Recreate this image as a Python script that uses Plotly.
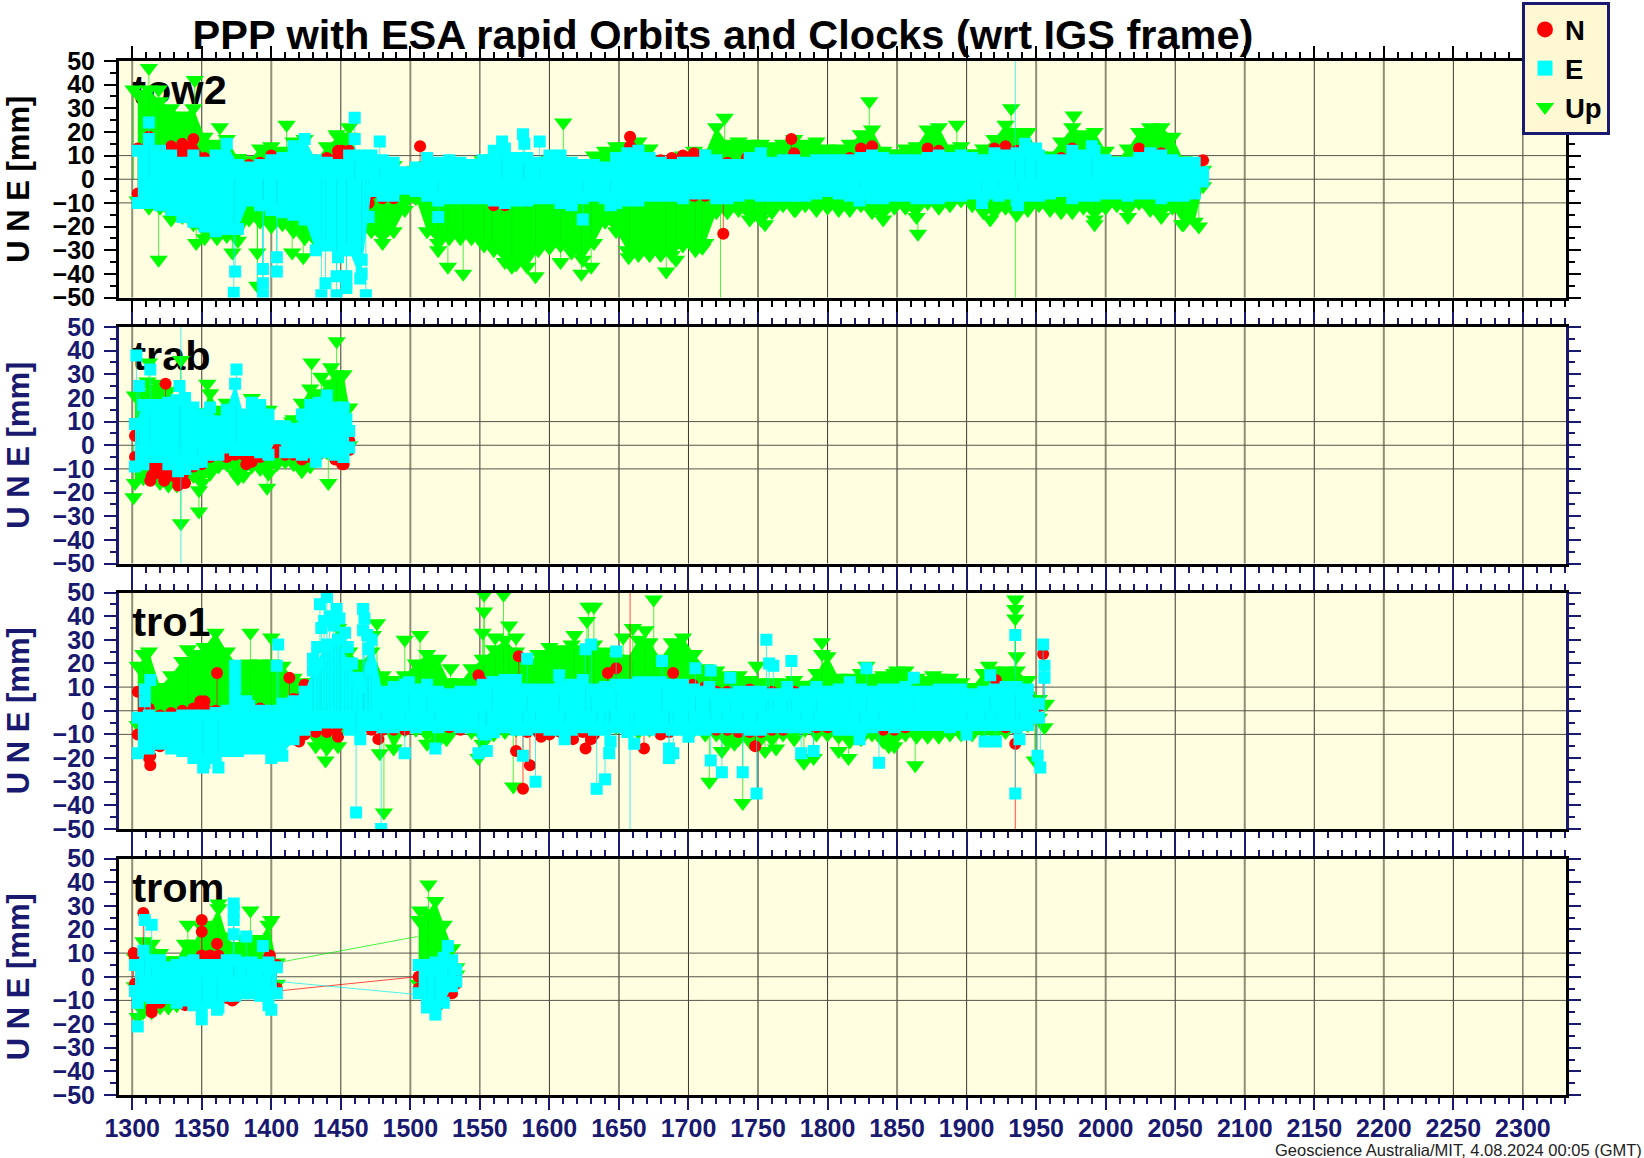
import plotly.graph_objects as go

TITLE = "PPP with ESA rapid Orbits and Clocks (wrt IGS frame)"
FOOTER = "Geoscience Australia/MIT, 4.08.2024 00:05 (GMT)"
Y_TITLE = "U N E [mm]"
SERIES_NAMES = ["N", "E", "Up"]
GRID_WEEKS_PALE = [1300,1400,1500,1650,1750,1850,1950,2000,2100,2200]
GRID_WEEKS_DARK = [1350,1450,1550,1600,1700,1800,1900,2050,2150,2250,2300]
GRID_LEVELS = [-10, 0, 10]

# ---------- tow2 ----------
tow2_weeks = [1304,1312,1320,1328,1336,1344,1352,1360,
 1368,1376,1384,1392,1400,1408,1416,1424,
 1432,1440,1448,1456,1464,1472,1480,1488,
 1496,1504,1512,1520,1528,1536,1544,1552,
 1560,1568,1576,1584,1592,1600,1608,1616,
 1624,1632,1640,1648,1656,1664,1672,1680,
 1688,1696,1704,1712,1720,1728,1736,1744,
 1752,1760,1768,1776,1784,1792,1800,1808,
 1816,1824,1832,1840,1848,1856,1864,1872,
 1880,1888,1896,1904,1912,1920,1928,1936,
 1944,1952,1960,1968,1976,1984,1992,2000,
 2008,2016,2024,2032,2040,2048,2056,2064,
 2070]
tow2_e_hi = [12,17,12,10,7,10,7,10, 15,6,5,6,8,9,14,17, 8,7,6,10,10,10,8,7, 3,5,9,7,8,7,6,8,
 12,13,9,9,7,10,10,7, 6,6,5,9,11,12,9,7, 6,7,7,10,8,6,6,9, 11,7,8,8,7,8,8,8,
 8,9,10,9,8,8,8,9, 10,9,10,9,8,11,10,11, 13,10,8,8,12,10,12,8, 7,7,9,11,10,8,7,7, 3]
tow2_e_lo = [-10,-10,-11,-13,-16,-18,-20,-22, -21,-21,-9,-11,-13,-14,-15,-17, -30,-28,-33,-30,-42,-5,-7,-7,
 -4,-5,-7,-9,-8,-8,-8,-8, -9,-10,-9,-9,-8,-8,-10,-11, -8,-7,-8,-10,-9,-9,-7,-7,
 -7,-8,-6,-6,-8,-8,-7,-6, -7,-7,-7,-7,-7,-6,-5,-6, -7,-6,-8,-8,-7,-7,-8,-8,
 -8,-7,-7,-6,-7,-6,-6,-9, -7,-7,-6,-5,-8,-7,-7,-6, -6,-7,-6,-6,-8,-7,-7,-6, -1]
tow2_n_hi = [13,18,12,14,15,17,9,7, 6,4,6,7,10,6,7,8, 8,9,12,12,0,1,0,0, 1,1,2,3,4,3,3,3,
 5,4,7,7,5,4,4,3, 4,1,3,7,10,11,8,8, 9,10,11,6,7,7,6,6, 7,7,8,11,6,7,6,5,
 9,13,14,9,7,5,6,13, 12,9,6,5,6,13,14,12, 7,5,7,9,13,7,8,5, 4,6,13,10,11,6,4,6, 8]
tow2_n_lo = [-6,-8,-7,-9,-9,-10,-10,-10, -9,-8,-7,-7,-8,-8,-8,-9, -10,-14,-10,-10,-10,-6,-8,-8,
 -3,-3,-6,-8,-7,-6,-6,-6, -11,-11,-8,-9,-8,-7,-8,-8, -8,-6,-6,-5,-6,-7,-6,-6,
 -6,-6,-7,-7,-8,-7,-6,-5, -5,-6,-5,-6,-6,-5,-4,-5, -6,-5,-7,-6,-5,-6,-6,-6,
 -6,-6,-5,-5,-7,-5,-5,-7, -5,-5,-5,-5,-5,-5,-5,-5, -5,-6,-5,-5,-6,-5,-6,-6, -1]
tow2_u_hi = [36,38,33,30,27,30,18,15, 17,9,8,13,14,12,16,17, 8,14,18,18,9,5,7,6, 2,4,6,6,7,6,6,8,
 9,8,7,7,7,8,7,5, 6,10,12,14,14,16,13,7, 7,10,12,11,22,15,16,15, 15,14,15,17,15,16,13,13,
 15,19,21,12,11,13,14,21, 22,13,14,11,13,17,23,20, 20,10,10,16,22,19,20,12, 8,13,20,22,22,18,8,7, 4]
tow2_u_lo = [-9,-12,-12,-17,-16,-19,-25,-22, -24,-26,-17,-18,-20,-19,-22,-25, -26,-27,-27,-24,-22,-22,-27,-22,
 -13,-8,-22,-27,-25,-25,-25,-27, -30,-35,-36,-37,-30,-29,-28,-31, -34,-27,-18,-22,-30,-32,-32,-32,
 -32,-28,-28,-27,-14,-14,-13,-17, -17,-14,-11,-13,-11,-13,-12,-13, -13,-11,-14,-17,-12,-12,-16,-10,
 -12,-11,-9,-11,-14,-14,-12,-15, -13,-11,-13,-14,-14,-12,-17,-12, -11,-16,-10,-13,-16,-12,-19,-18, -3]
tow2_u_out_w = [1312,1301,1319,1345,1363,1411,1447,1456,1610,1319,1346,1372,1390,1423,1415,1361,1390,
 1527,1538,1573,1590,1608,1623,1630,1657,1684,1691,1726,1755,1777,1520,1559,1553,1705,1710,1747,
 1830,1865,1893,1932,1977,1917,1992,2055,2067,1935,1723]
tow2_u_out_v = [47,38,38,42,22,23,19,22,24,-34,-27,-31,-31,-33,-31,-25,-45,
 -37,-40,-37,-41,-35,-40,-37,-33,-39,-34,26,-19,-13,-30,-28,-28,-30,-29,-15,
 33,-23,23,30,27,-17,-19,-19,-20,-62,-62]
tow2_e_out_w = [1312,1374,1373,1394,1394,1394,1404,1404,1460,1460,1478,1581,1582,1593,1566,1520,1624,1644,
 1439,1447,1454,1454,1447,1468,1470,1436,1465,1465,1823,1911,1923,1937,1942,1950,1990,1935]
tow2_e_out_v = [24,-39,-48,-38,-44,-49,-33,-39,26,17,16,19,15,16,16,-16,-17,-11,
 -44,-49,-41,-46,-41,-49,-16,-49,-40,-34,-9,-10,-7,-11,15,13,14,62]
tow2_n_out_w = [1507,1658,1658,1725,1774,1742,1470,1449,1451,1566,1706]
tow2_n_out_v = [14,18,14,-23,17,9,-10,-10,12,-10,10]

# ---------- trab ----------
trab_weeks = [1302,1308,1314,1320,1326,1332,1338,1344,1350,1356,1362,1368,1374,1380,
 1386,1392,1398,1404,1410,1416,1422,1428,1434,1440,1446,1452,1456]
trab_e_hi = [9,17,17,17,18,19,20,16,13,16,10,15,26,13, 18,17,13,8,8,7,13,17,18,21,16,16,6]
trab_e_lo = [-9,-8,-5,-5,-8,-7,-10,-8,-7,-4,-4,-1,-2,-2, -2,-3,-4,3,-3,-3,-4,-3,-3,-3,-4,-5,-1]
trab_n_hi = [4,8,8,10,15,8,6,5,4,6,3,3,4,3, 3,3,4,2,2,3,2,3,3,5,4,8,2]
trab_n_lo = [-5,-7,-13,-12,-13,-14,-16,-9,-8,-5,-4,-5,-4,-4, -7,-5,-2,-3,-4,-4,-6,-5,-4,-3,-6,-8,-2]
trab_u_hi = [21,22,24,25,23,18,15,14,14,22,15,18,12,12, 20,15,15,3,8,11,18,24,22,26,30,30,16]
trab_u_lo = [-16,-14,-9,-16,-17,-17,-14,-13,-16,-12,-9,-8,-12,-13, -9,-10,-12,-8,-7,-8,-11,-9,-4,-3,-3,-3,0]
trab_u_out_w = [1312,1335,1311,1320,1354,1429,1436,1443,1447,1415,1348,1335,1348,1301,1441,1376,1397]
trab_u_out_v = [35,36,27,26,26,35,29,33,44,10,-28,-33,-19,-22,-16,-14,-18]
trab_e_out_w = [1303,1313,1305,1334,1375,1333,1335,1335,1432,1454,1347]
trab_e_out_v = [38,32,25,25,32,-11,-62,62,-7,11,-7]
trab_n_out_w = [1324,1313,1323,1333,1382,1451]
trab_n_out_v = [26,-15,-15,-17,-8,-8]

# ---------- tro1 ----------
tro1_weeks = [1304,1312,1320,1328,1336,1344,1352,1360,
 1368,1376,1384,1392,1400,1408,1416,1424,
 1432,1440,1448,1456,1464,1472,1480,1488,
 1496,1504,1512,1520,1528,1536,1544,1552,
 1560,1568,1576,1584,1592,1600,1608,1616,
 1624,1632,1640,1648,1656,1664,1672,1680,
 1688,1696,1704,1712,1720,1728,1736,1744,
 1752,1760,1768,1776,1784,1792,1800,1808,
 1816,1824,1832,1840,1848,1856,1864,1872,
 1880,1888,1896,1904,1912,1920,1928,1936,
 1944,1952]
tro1_e_hi = [-3,-2,-3,-3,-2,-2,-2,-1, 0,-1,2,0,0,3,4,8, 20,28,30,20,10,30,8,10, 11,9,8,8,7,8,8,11,
 12,13,13,9,9,9,10,11, 13,9,10,11,11,12,12,12, 11,11,9,8,7,7,8,8, 8,7,7,7,8,8,8,9,
 8,9,8,9,9,10,8,8, 9,9,9,7,8,9,10,10, 9,3]
tro1_e_lo = [-18,-16,-14,-16,-17,-20,-22,-20, -17,-17,-16,-16,-20,-19,-12,-8, -6,-5,-5,-8,-12,-6,-7,-7,
 -6,-7,-6,-7,-6,-7,-7,-9, -9,-7,-8,-8,-7,-8,-8,-8, -7,-8,-8,-7,-9,-8,-8,-7,
 -8,-8,-8,-8,-7,-7,-7,-8, -8,-7,-7,-7,-7,-6,-6,-8, -8,-8,-7,-6,-7,-6,-6,-6, -6,-7,-6,-6,-6,-6,-6,-7, -6,-3]
tro1_n_hi = [8,1,-2,-1,0,1,4,0, -1,1,0,1,0,2,5,11, 8,9,8,2,2,5,5,8, 6,4,6,7,5,5,5,12,
 6,7,5,6,5,6,7,8, 8,9,7,8,7,8,7,8, 8,7,8,10,8,8,8,9, 8,8,7,8,6,5,6,6,
 5,6,5,5,5,5,5,5, 4,5,5,5,6,7,7,7, 6,2]
tro1_n_lo = [-10,-20,-15,-15,-14,-16,-15,-15, -14,-13,-14,-13,-14,-12,-12,-10, -9,-9,-11,-3,-6,-8,-8,-8,
 -8,-7,-6,-6,-7,-8,-7,-9, -9,-7,-6,-9,-9,-10,-9,-9, -9,-10,-7,-7,-8,-8,-8,-10,
 -8,-7,-6,-6,-8,-8,-9,-9, -9,-8,-8,-7,-7,-7,-7,-6, -6,-7,-7,-8,-8,-7,-6,-6, -5,-6,-6,-6,-6,-6,-7,-8, -6,-3]
tro1_u_hi = [19,25,10,15,21,24,27,33, 25,19,20,20,20,19,14,12, 12,25,35,25,20,25,15,13, 15,20,24,22,12,12,18,22,
 26,30,25,20,24,27,26,28, 26,28,25,22,22,30,29,22, 29,31,24,18,17,15,15,13, 12,12,12,13,11,16,23,14,
 14,16,14,15,16,17,14,13, 14,14,12,10,16,17,17,17, 13,5]
tro1_u_lo = [-6,-8,-8,-10,-12,-13,-15,-12, -11,-10,-10,-11,-12,-12,-10,-8, -15,-16,-15,-6,-6,-6,-6,-16,
 -8,-8,-10,-13,-10,-7,-9,-14, -10,-9,-8,-8,-8,-8,-8,-9, -7,-8,-7,-7,-8,-9,-8,-8,
 -8,-7,-8,-10,-10,-13,-12,-13, -12,-12,-10,-12,-8,-10,-10,-11, -13,-12,-10,-13,-15,-10,-11,-11,
 -11,-10,-10,-10,-9,-10,-9,-6, -6,-3]
tro1_u_out_w = [1308,1340,1385,1400,1476,1473,1496,1507,1529,1553,1553,1552,1567,1571,1576,1561,
 1439,1481,1478,1574,1549,1512,1526, 1628,1632,1627,1618,1653,1660,1669,1675,1715,1739,1724,1733,1749,1763,1755,
 1796,1796,1828,1850,1863,1815,1808,1783,1790,1844,1876,1916,1928,1935,1935,1935,1936,1957,1956,1949]
tro1_u_out_v = [24,26,33,31,37,32,30,32,18,49,42,33,49,36,31,31,
 -21,-43,-18,-32,-20,-14,-12, 44,44,38,32,31,35,34,47,-30,-39,-17,-14,19,-16,-17,
 29,24,19,17,-23,-20,-17,-22,-20,-15,15,19,16,47,43,39,23,3,-7,-21]
tro1_e_out_w = [1313,1309,1309,1374,1374,1374,1374,1374,1405,1404,1382,1362,1351,1461,1479,1496,1518,1549,1555,1554,1581,1559,1512,1499,1584,
 1440,1435,1447,1436,1449,1453,1466,1467,
 1430,1433,1438,1442,1445,1450,1455,1458,1462,1466,1470,1469,1472,1430,
 1590,1611,1607,1626,1630,1648,1681,1705,1716,1715,1730,1756,1758,1761,1774,1771,
 1634,1640,1643,1644,1661,1686,1686,1689,1700,1716,1724,1739,1749,1658,
 1792,1781,1790,1837,1823,1816,1828,1862,1913,1921,1917,1935,1935,1951,1953,1955,1956,1956,1938,1900]
tro1_e_out_v = [13,9,4,19,15,11,7,3,28,19,4,-24,-24,-43,-50,-18,-16,-18,-17,-10,-19,12,11,12,22,
 48,45,43,35,39,33,43,39,
 22,27,38,40,36,30,27,20,14,34,26,32,18,17,
 -30,-12,15,26,28,25,21,18,17,10,14,30,20,19,21,10,
 -33,-29,-18,-13,-14,-16,-20,-18,-11,-21,-26,-26,-35,-62,
 10,-18,-17,-22,-12,12,18,14,-13,-13,15,32,-35,-19,-24,28,19,14,-12,-10]
tro1_n_out_w = [1361,1413,1420,1313,1313,1449,1549,1578,1581,1576,1586,1477,1349,
 1642,1648,1689,1594,1617,1626,1630,1668,1686,1748,1739,1703,1733,1955,1921,1935,1935,1658]
tro1_n_out_v = [16,14,-13,-23,-19,9,15,23,-33,-17,-23,-12,4,
 16,18,16,-11,-12,-16,-12,-16,-9,-15,8,11,-7,24,13,-14,-62,62]

# ---------- trom ----------
trom_weeks = [1302,1308,1314,1320,1326,1332,1338,1344,1350,1356,1362,1368,1374,1380,1386,1392,1398,1404,
 1506,1512,1518,1524,1530,1533]
trom_e_hi = [5,11,7,7,4,5,6,7,5,5,5,7,7,6,6,5,6,4, 5,5,6,8,7,3]
trom_e_lo = [-6,-8,-9,-9,-9,-11,-10,-12,-14,-11,-13,-8,-8,-7,-7,-8,-12,-7, -7,-11,-13,-11,-4,-2]
trom_n_hi = [8,9,5,3,2,3,4,6,9,9,9,5,5,3,3,5,8,5, 0,1,3,3,2,0]
trom_n_lo = [-3,-3,-13,-11,-7,-7,-11,-8,-7,-7,-7,-9,-9,-6,-6,-6,-7,-5, -5,-6,-12,-8,-7,-3]
trom_u_hi = [8,15,14,10,7,7,14,14,21,22,29,17,13,16,15,16,22,6, 24,27,32,22,12,4]
trom_u_lo = [-4,-15,-15,-13,-13,-12,-9,-9,-7,-7,-5,-5,-5,-4,-4,-4,-6,-3, -3,-4,-4,-3,-1,1]
trom_u_out_w = [1513,1507,1385,1340,1400,1304,1362]
trom_u_out_v = [39,28,28,22,24,-17,31]
trom_e_out_w = [1304,1309,1314,1373,1373,1373,1373,1382,1394,1350,1361,1400,1518,1512,1527,1304]
trom_e_out_v = [-21,24,22,31,28,24,18,17,13,-18,-14,-14,-16,-13,13,-11]
trom_n_out_w = [1308,1301,1350,1350,1361,1354,1314,1372,1338,1399,1529,1520]
trom_n_out_v = [27,10,24,19,14,8,-15,-10,-12,9,-7,-12]
trom_u_link_w = [1405,1505]
trom_u_link_v = [6,17]
trom_n_link_w = [1405,1505]
trom_n_link_v = [-6,0]
trom_e_link_w = [1405,1505]
trom_e_link_v = [-2,-7.5]

panels = [
 dict(name="tow2", weeks=tow2_weeks,
      U=(tow2_u_hi,tow2_u_lo,tow2_u_out_w,tow2_u_out_v,[],[]),
      N=(tow2_n_hi,tow2_n_lo,tow2_n_out_w,tow2_n_out_v,[],[]),
      E=(tow2_e_hi,tow2_e_lo,tow2_e_out_w,tow2_e_out_v,[],[])),
 dict(name="trab", weeks=trab_weeks,
      U=(trab_u_hi,trab_u_lo,trab_u_out_w,trab_u_out_v,[],[]),
      N=(trab_n_hi,trab_n_lo,trab_n_out_w,trab_n_out_v,[],[]),
      E=(trab_e_hi,trab_e_lo,trab_e_out_w,trab_e_out_v,[],[])),
 dict(name="tro1", weeks=tro1_weeks,
      U=(tro1_u_hi,tro1_u_lo,tro1_u_out_w,tro1_u_out_v,[],[]),
      N=(tro1_n_hi,tro1_n_lo,tro1_n_out_w,tro1_n_out_v,[],[]),
      E=(tro1_e_hi,tro1_e_lo,tro1_e_out_w,tro1_e_out_v,[],[])),
 dict(name="trom", weeks=trom_weeks,
      U=(trom_u_hi,trom_u_lo,trom_u_out_w,trom_u_out_v,trom_u_link_w,trom_u_link_v),
      N=(trom_n_hi,trom_n_lo,trom_n_out_w,trom_n_out_v,trom_n_link_w,trom_n_link_v),
      E=(trom_e_hi,trom_e_lo,trom_e_out_w,trom_e_out_v,trom_e_link_w,trom_e_link_v)),
]

W, H = 1644, 1158
X_L, X_R = 119, 1566
PANEL_TOP = [61, 327, 592.5, 858.5]
PANEL_H = 236.5
NAVY = "#191970"
BLACK = "#000000"
FONT = "Liberation Sans"
STYLE = {
 "U": dict(color="#00ff00", line="rgba(0,235,0,0.7)", symbol="triangle-down", size=16),
 "N": dict(color="#ff0000", line="rgba(255,0,0,0.7)", symbol="circle", size=12),
 "E": dict(color="#00ffff", line="rgba(0,235,235,0.7)", symbol="square", size=12),
}

fig = go.Figure()
layout = {}
shapes = []

def polygons(weeks, hi, lo):
    groups, start = [], 0
    for i in range(1, len(weeks)):
        if weeks[i] - weeks[i-1] > 30:
            groups.append((start, i)); start = i
    groups.append((start, len(weeks)))
    xs, ys = [], []
    for a, b in groups:
        xs += weeks[a:b] + weeks[a:b][::-1] + [None]
        ys += hi[a:b] + lo[a:b][::-1] + [None]
    return xs, ys

for i, p in enumerate(panels):
    n = i + 1
    suffix = "" if n == 1 else str(n)
    xa, ya = f"x{suffix}", f"y{suffix}"
    ink = BLACK if i == 0 else NAVY
    # station label sits underneath the markers
    fig.add_trace(go.Scatter(x=[1300], y=[36.2], mode="text", text=[p["name"]], textposition="middle right",
                             textfont=dict(family=FONT, size=41.5, color=BLACK, weight=700),
                             xaxis=xa, yaxis=ya, showlegend=False, hoverinfo="skip"))
    for key in ["U", "N", "E"]:
        hi, lo, ow, ov, lw, lv = p[key]
        st = STYLE[key]
        px, py = polygons(p["weeks"], hi, lo)
        fig.add_trace(go.Scatter(x=px, y=py, mode="lines", fill="toself", fillcolor=st["color"],
                                 line=dict(width=0, color=st["color"]), xaxis=xa, yaxis=ya,
                                 showlegend=False, hoverinfo="skip"))
        sx, sy = [], []
        for w, v in zip(ow, ov):
            sx += [w, w, None]; sy += [v, 0, None]
        sx += lw + [None]; sy += lv + [None]
        fig.add_trace(go.Scatter(x=sx, y=sy, mode="lines", line=dict(width=1, color=st["line"]),
                                 xaxis=xa, yaxis=ya, showlegend=False, hoverinfo="skip"))
        fig.add_trace(go.Scatter(x=p["weeks"] + p["weeks"] + ow, y=hi + lo + ov, mode="markers",
                                 marker=dict(symbol=st["symbol"], size=st["size"], color=st["color"], line=dict(width=0)),
                                 xaxis=xa, yaxis=ya, showlegend=False, hoverinfo="skip"))
    top, bot = PANEL_TOP[i], PANEL_TOP[i] + PANEL_H
    layout[f"xaxis{suffix}"] = dict(
        domain=[X_L / W, X_R / W], range=[1290.5, 2331], anchor=ya, dtick=50, tick0=1300, automargin=False,
        ticks="outside", ticklen=12, tickwidth=2, tickcolor=ink,
        minor=dict(dtick=10, tick0=1300, ticks="outside", ticklen=6, tickwidth=2, tickcolor=ink, showgrid=False),
        showgrid=False, zeroline=False, showline=True, linewidth=3, linecolor=BLACK, mirror="allticks",
        showticklabels=(i == 3), ticklabelstandoff=-3,
        tickfont=dict(family=FONT, size=25, color=NAVY, weight=700))
    layout[f"yaxis{suffix}"] = dict(
        domain=[1 - bot / H, 1 - top / H], range=[-50, 50], anchor=xa, dtick=10, tick0=0, automargin=False,
        ticks="outside", ticklen=12, tickwidth=2, tickcolor=ink,
        minor=dict(dtick=5, tick0=0, ticks="outside", ticklen=6, tickwidth=2, tickcolor=ink, showgrid=False),
        showgrid=False, zeroline=False, showline=True, linewidth=3, linecolor=BLACK if i in (0, 3) else NAVY,
        mirror="allticks", ticklabelstandoff=4,
        tickfont=dict(family=FONT, size=25, color=ink, weight=700),
        title=dict(text=Y_TITLE, standoff=14, font=dict(family=FONT, size=31, color=ink, weight=700)))
    for wk_list, col, wid in ((GRID_WEEKS_PALE, "#8f8f78", 2), (GRID_WEEKS_DARK, "#3a3a30", 1)):
        for w in wk_list:
            shapes.append(dict(type="line", layer="below", xref=xa, yref=f"{ya} domain", x0=w, x1=w, y0=0, y1=1,
                               line=dict(color=col, width=wid)))
    for lv in GRID_LEVELS:
        shapes.append(dict(type="line", layer="below", xref=f"{xa} domain", yref=ya, x0=0, x1=1, y0=lv, y1=lv,
                           line=dict(color="#55554a", width=1)))

LEGEND_SIZE = {"N": 16, "E": 15, "Up": 16}
for name, key in zip(SERIES_NAMES, ["N", "E", "U"]):
    st = STYLE[key]
    fig.add_trace(go.Scatter(x=[None], y=[None], mode="markers", name=name, xaxis="x", yaxis="y",
                             marker=dict(symbol=st["symbol"], size=LEGEND_SIZE[name], color=st["color"], line=dict(width=0))))

fig.update_layout(
    width=W, height=H, autosize=False, margin=dict(l=0, r=0, t=0, b=0, pad=0),
    paper_bgcolor="white", plot_bgcolor="#FFFEE0", hovermode=False, shapes=shapes,
    title=dict(text=TITLE, x=723 / W, xanchor="center", y=1 - 34 / H, yanchor="middle",
               font=dict(family=FONT, size=41.5, color=BLACK, weight=700)),
    legend=dict(x=1522 / W, xanchor="left", y=1 - 2 / H, yanchor="top",
                bgcolor="#FFF8D2", bordercolor=NAVY, borderwidth=3, entrywidth=56, entrywidthmode="pixels",
                font=dict(family=FONT, size=27.5, color=BLACK, weight=700),
                itemsizing="trace", traceorder="normal"),
    annotations=[dict(text=FOOTER, xref="paper", yref="paper", x=1, y=1 - 1150 / H, xanchor="right", yanchor="middle",
                      showarrow=False, font=dict(family=FONT, size=16.5, color="#222222"))],
    **layout)

fig.write_html("out.html", config={"displayModeBar": False},
               post_script="document.body.style.margin='0';document.body.style.overflow='hidden';window.dispatchEvent(new Event('resize'));")
